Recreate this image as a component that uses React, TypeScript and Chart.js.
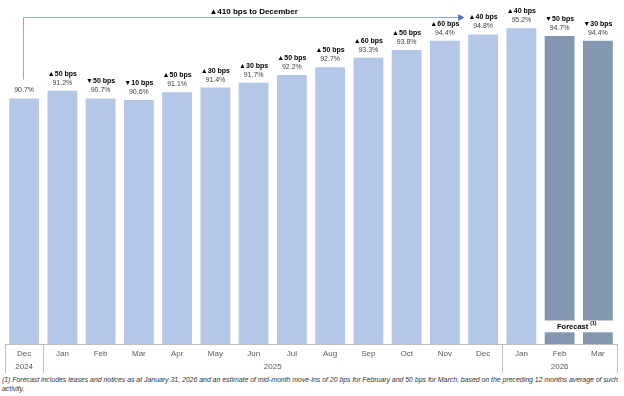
import React, { useEffect, useRef } from "react";
import { Chart, registerables } from "chart.js";

Chart.register(...registerables);

const months = ["Dec", "Jan", "Feb", "Mar", "Apr", "May", "Jun", "Jul", "Aug", "Sep", "Oct", "Nov", "Dec", "Jan", "Feb", "Mar"];
const years = [
  { label: "2024", from: 0, to: 0 },
  { label: "2025", from: 1, to: 12 },
  { label: "2026", from: 13, to: 15 },
];
const occupancy = [90.7, 91.2, 90.7, 90.6, 91.1, 91.4, 91.7, 92.2, 92.7, 93.3, 93.8, 94.4, 94.8, 95.2, 94.7, 94.4];
const changeBps: (number | null)[] = [null, 50, -50, -10, 50, 30, 30, 50, 50, 60, 50, 60, 40, 40, -50, -30];
const isForecast = [false, false, false, false, false, false, false, false, false, false, false, false, false, false, true, true];
const totalChangeLabel = "▲410 bps to December";
const arrowFrom = 0;
const arrowTo = 12;
const forecastLabel = "Forecast";
const forecastNote = "(1)";
const footnote =
  "(1) Forecast includes leases and notices as at January 31, 2026 and an estimate of mid-month move-ins of 20 bps for February and 50 bps for March, based on the preceding 12 months average of such activity.";

const LIGHT = "#B4C7E7";
const DARK = "#8497B0";
const FONT = "'Liberation Sans', Arial, sans-serif";

const annotations = {
  id: "annotations",
  afterDatasetsDraw(chart: any) {
    const { ctx, chartArea, scales } = chart;
    const xs = scales.x;
    const meta = chart.getDatasetMeta(0);
    const base = chartArea.bottom;
    ctx.save();

    // forecast gap
    const fIdx = isForecast.map((f, i) => (f ? i : -1)).filter((i) => i >= 0);
    if (fIdx.length) {
      const first = meta.data[fIdx[0]];
      const last = meta.data[fIdx[fIdx.length - 1]];
      const l = first.x - first.width / 2 - 1;
      const r = last.x + last.width / 2 + 1;
      ctx.fillStyle = "#ffffff";
      ctx.fillRect(l, base - 23.5, r - l, 11.8);
      const cx = (first.x + last.x) / 2 - 2;
      ctx.font = `bold 7.5px ${FONT}`;
      const w1 = ctx.measureText(forecastLabel + " ").width;
      ctx.font = `bold 5px ${FONT}`;
      const w2 = ctx.measureText(forecastNote).width;
      const sx = cx - (w1 + w2) / 2;
      ctx.fillStyle = "#000";
      ctx.textBaseline = "middle";
      ctx.textAlign = "left";
      ctx.font = `bold 7.5px ${FONT}`;
      ctx.fillText(forecastLabel + " ", sx, base - 17.5);
      ctx.font = `bold 5px ${FONT}`;
      ctx.fillText(forecastNote, sx + w1, base - 20);
    }

    // labels
    ctx.textAlign = "center";
    ctx.textBaseline = "middle";
    meta.data.forEach((bar: any, i: number) => {
      ctx.font = `7px ${FONT}`;
      ctx.fillStyle = "#404040";
      ctx.fillText(occupancy[i].toFixed(1) + "%", bar.x, bar.y - 8);
      const c = changeBps[i];
      if (c !== null) {
        ctx.font = `bold 7px ${FONT}`;
        ctx.fillStyle = "#000";
        ctx.fillText((c >= 0 ? "▲" : "▼") + Math.abs(c) + " bps", bar.x, bar.y - 17);
      }
    });

    // arrow
    const a = meta.data[arrowFrom];
    const b = meta.data[arrowTo];
    const ay = 17;
    const endX = b.x - b.width / 2 - 4;
    ctx.strokeStyle = "#8FAADC";
    ctx.lineWidth = 1;
    ctx.beginPath();
    ctx.moveTo(Math.round(a.x) - 0.5, a.y - 19);
    ctx.lineTo(Math.round(a.x) - 0.5, ay + 0.5);
    ctx.lineTo(endX - 4, ay + 0.5);
    ctx.stroke();
    ctx.fillStyle = "#4472C4";
    ctx.beginPath();
    ctx.moveTo(endX, ay + 0.5);
    ctx.lineTo(endX - 6, ay - 3);
    ctx.lineTo(endX - 6, ay + 4);
    ctx.closePath();
    ctx.fill();
    ctx.font = `bold 8px ${FONT}`;
    ctx.fillStyle = "#000";
    ctx.fillText(totalChangeLabel, (a.x + b.x) / 2, 11.5);

    // axis frame
    const half = (xs.getPixelForValue(1) - xs.getPixelForValue(0)) / 2;
    ctx.strokeStyle = "#BFBFBF";
    ctx.lineWidth = 1;
    ctx.beginPath();
    ctx.moveTo(chartArea.left, base + 0.5);
    ctx.lineTo(chartArea.right, base + 0.5);
    ctx.stroke();
    const seps = [xs.getPixelForValue(0) - half];
    years.forEach((y) => seps.push(xs.getPixelForValue(y.to) + half));
    seps.forEach((sx) => {
      ctx.beginPath();
      ctx.moveTo(Math.round(sx) + 0.5, base);
      ctx.lineTo(Math.round(sx) + 0.5, base + 29);
      ctx.stroke();
    });
    ctx.font = `8px ${FONT}`;
    ctx.fillStyle = "#595959";
    years.forEach((y) => {
      const cx = (xs.getPixelForValue(y.from) + xs.getPixelForValue(y.to)) / 2;
      ctx.fillText(y.label, cx, base + 22.5);
    });
    ctx.restore();
  },
};

export default function App() {
  const ref = useRef<HTMLCanvasElement>(null);
  useEffect(() => {
    if (!ref.current) return;
    const chart = new Chart(ref.current, {
      type: "bar",
      data: {
        labels: months,
        datasets: [
          {
            data: occupancy,
            backgroundColor: isForecast.map((f) => (f ? DARK : LIGHT)),
            barPercentage: 0.78,
            categoryPercentage: 1,
          },
        ],
      },
      options: {
        animation: false,
        responsive: false,
        devicePixelRatio: 1,
        layout: { padding: { left: 5, right: 7, top: 0, bottom: 0 } },
        plugins: { legend: { display: false }, tooltip: { enabled: false } },
        scales: {
          x: {
            grid: { display: false, drawTicks: false },
            border: { display: false },
            ticks: {
              color: "#595959",
              font: { family: FONT, size: 8 },
              padding: 5,
              maxRotation: 0,
              autoSkip: false,
            },
            afterFit: (s: any) => {
              s.height = 31;
            },
          },
          y: { display: false, min: 75, max: 97 },
        },
      },
      plugins: [annotations],
    });
    return () => chart.destroy();
  }, []);
  return (
    <div style={{ position: "absolute", left: 0, top: 0, width: 624, height: 396, background: "#fff" }}>
      <canvas ref={ref} width={624} height={375} style={{ display: "block" }} />
      <div
        style={{
          position: "absolute",
          left: 2,
          top: 376,
          width: 622,
          fontFamily: FONT,
          fontStyle: "italic",
          fontSize: 7,
          letterSpacing: "-0.05px",
          lineHeight: "8.5px",
          color: "#333",
        }}
      >
        {footnote}
      </div>
    </div>
  );
}
